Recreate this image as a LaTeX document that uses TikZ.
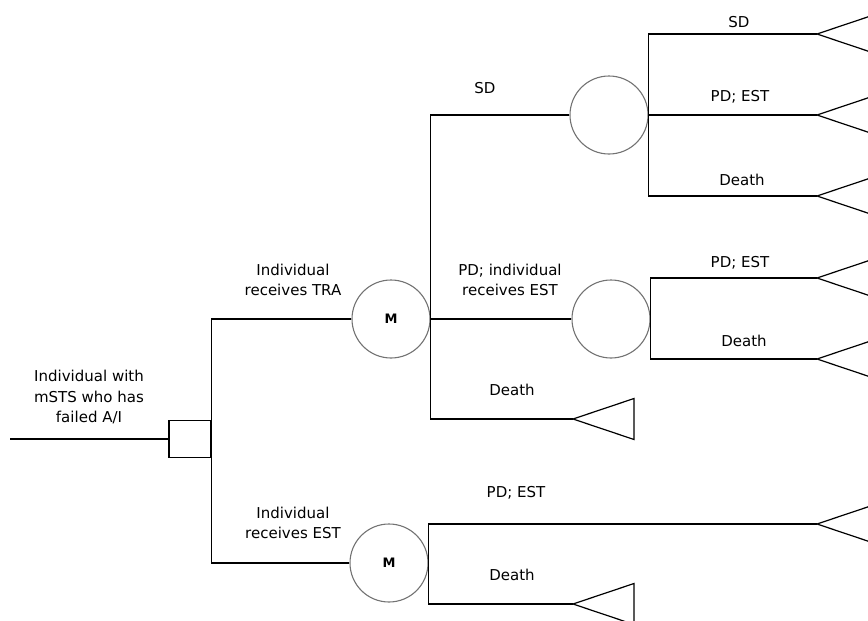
\documentclass[tikz,border=0pt]{standalone}
\usepackage{fontspec}
\setmainfont{DejaVu Sans}
\usetikzlibrary{positioning}

\begin{document}
\begin{tikzpicture}[x=1pt,y=-1pt,line width=1.2pt]
\tikzset{D/.style={rectangle,draw,minimum width=42pt,minimum height=37pt,inner sep=0pt}}
\tikzset{M/.style={circle,draw=black!55,line width=1.1pt,minimum size=78pt,inner sep=0pt,font=\fontsize{13}{15}\selectfont\bfseries}}
\tikzset{L/.style={align=center,font=\fontsize{15}{20.5}\selectfont}}
\tikzset{T/.pic={\draw (0,0) -- (61,-20.5) -- (61,20.5) -- cycle;}}

  \useasboundingbox (0,0) rectangle (868,621);
  \clip (0,0) rectangle (868,621);

  \coordinate (start) at (10,439);
  \node[D] (dec) at (190,439) {};

  \node[M] (m1) at (391,319) {M};
  \node[M] (m2) at (389,563) {M};

  \node[M] (c1) at (609,115) {};
  \node[M] (c2) at (611,319) {};

  \coordinate (t11) at (817,34);
  \coordinate (t12) at (817,115);
  \coordinate (t13) at (817,196);
  \coordinate (t21) at (817,278);
  \coordinate (t22) at (817,359);
  \coordinate (t3)  at (573,419);
  \coordinate (t41) at (817,524);
  \coordinate (t42) at (573,604);

  \draw (start) -- (dec.west);
  \draw (m1.west) -- (m1.west -| dec.east) -- (m2.west -| dec.east) -- (m2.west);

  \draw (c1.west) -- (c1.west -| m1.east) -- (t3 -| m1.east) -- (t3);
  \draw (m1.east) -- (c2.west);

  \draw (t11) -- (t11 -| c1.east) -- (t13 -| c1.east) -- (t13);
  \draw (c1.east) -- (t12);

  \draw (t21) -- (t21 -| c2.east) -- (t22 -| c2.east) -- (t22);

  \draw (t41) -- (t41 -| m2.east) -- (t42 -| m2.east) -- (t42);

  \foreach \t in {t11,t12,t13,t21,t22,t3,t41,t42}
    \pic at (\t) {T};

  \node[L] (lroot) at (89,397) {Individual with\\mSTS who has\\failed A/I};
  \node[L] (ltra) at (293,280) {Individual\\receives TRA};
  \node[L] (lest) at (293,523) {Individual\\receives EST};
  \node[L] (lsd) at (485,88) {SD};
  \node[L] (lpdi) at (510,280) {PD; individual\\receives EST};
  \node[L] (ld1) at (512,390) {Death};
  \node[L] (lsd2) at (739,22) {SD};
  \node[L] (lpd2) at (740,97) {PD; EST};
  \node[L] (ld2) at (742,180) {Death};
  \node[L] (lpd3) at (740,263) {PD; EST};
  \node[L] (ld3) at (744,341) {Death};
  \node[L] (lpd4) at (516,493) {PD; EST};
  \node[L] (ld4) at (512,575) {Death};
\end{tikzpicture}
\end{document}
